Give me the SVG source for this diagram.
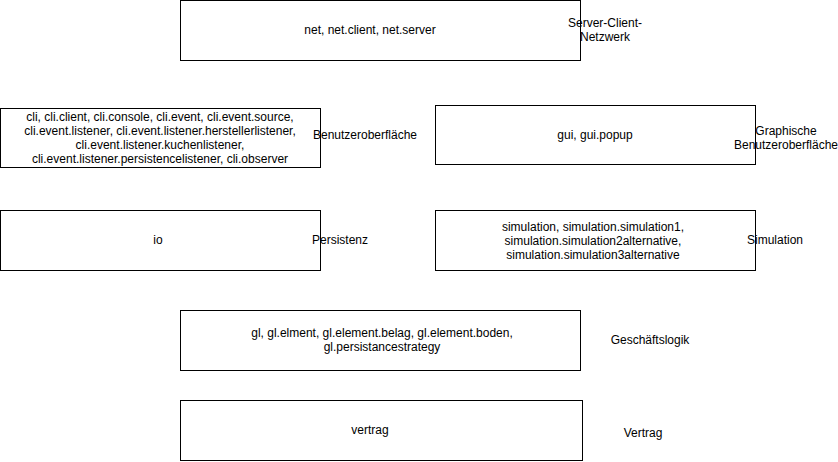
<svg xmlns="http://www.w3.org/2000/svg" width="838" height="462" viewBox="0 0 838 462">
<style>
.box{fill:#fff;stroke:#000;stroke-width:1}
text{font-family:"Liberation Sans",Arial,sans-serif;font-size:12px;fill:#000;text-anchor:middle}
</style>
<rect width="838" height="462" fill="#fff"/>
<g id="net"><rect class="box" x="180.5" y="0.5" width="400" height="60"/><text x="370" y="34">net, net.client, net.server</text></g>
<g id="net-label"><text x="605" y="27">Server-Client-</text><text x="605" y="41">Netzwerk</text></g>
<g id="cli"><rect class="box" x="0.5" y="108.5" width="320" height="59"/>
<text x="160" y="121">cli, cli.client, cli.console, cli.event, cli.event.source,</text>
<text x="160" y="135">cli.event.listener, cli.event.listener.herstellerlistener,</text>
<text x="160" y="149">cli.event.listener.kuchenlistener,</text>
<text x="160" y="163">cli.event.listener.persistencelistener, cli.observer</text></g>
<g id="cli-label"><text x="365" y="139">Benutzeroberfläche</text></g>
<g id="gui"><rect class="box" x="435.5" y="105.5" width="320" height="59"/><text x="595" y="139">gui, gui.popup</text></g>
<g id="gui-label"><text x="786" y="135">Graphische</text><text x="786" y="149">Benutzeroberfläche</text></g>
<g id="io"><rect class="box" x="0.5" y="210.5" width="320" height="60"/><text x="158" y="244">io</text></g>
<g id="io-label"><text x="340" y="244">Persistenz</text></g>
<g id="simulation"><rect class="box" x="435.5" y="210.5" width="320" height="60"/>
<text x="593" y="231">simulation, simulation.simulation1,</text>
<text x="593" y="245">simulation.simulation2alternative,</text>
<text x="593" y="259">simulation.simulation3alternative</text></g>
<g id="sim-label"><text x="775" y="244">Simulation</text></g>
<g id="gl"><rect class="box" x="180.5" y="310.5" width="400" height="60"/>
<text x="382" y="337">gl, gl.elment, gl.element.belag, gl.element.boden,</text>
<text x="382" y="351">gl.persistancestrategy</text></g>
<g id="gl-label"><text x="650" y="344">Geschäftslogik</text></g>
<g id="vertrag"><rect class="box" x="180.5" y="400.5" width="402" height="60"/><text x="370" y="434">vertrag</text></g>
<g id="vertrag-label"><text x="643" y="437">Vertrag</text></g>
<g id="connectors"></g>
</svg>
